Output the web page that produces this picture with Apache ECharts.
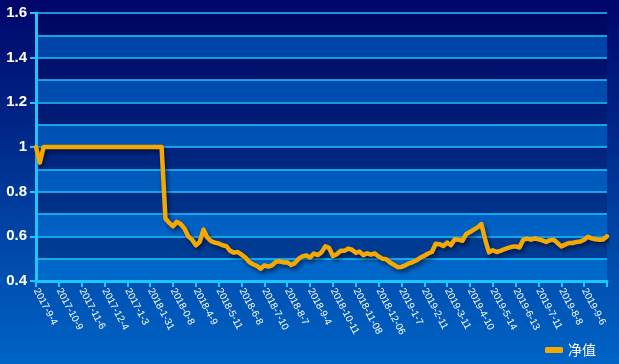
<!DOCTYPE html>
<html>
<head>
<meta charset="utf-8">
<script src="https://cdn.jsdelivr.net/npm/echarts@6/dist/echarts.min.js"></script>
<style>
html,body{margin:0;padding:0;}
#c{width:619px;height:364px;background:linear-gradient(180deg,#00056a 0%,#002688 35%,#0046a6 65%,#0064c6 100%);}
</style>
</head>
<body>
<div id="c"></div>
<script>
// Tick labels on the x axis (one every 6 data points)
const tickLabels = ['2017-9-4','2017-10-9','2017-11-6','2017-12-4','2017-1-3','2018-1-31','2018-0-8','2018-4-9','2018-5-11','2018-6-8','2018-7-10','2018-8-7','2018-9-4','2018-10-11','2018-11-08','2018-12-06','2019-1-7','2019-2-11','2019-3-11','2019-4-10','2019-5-14','2019-6-13','2019-7-11','2019-8-8','2019-9-6'];
const pointsPerTick = 6;
const seriesName = '净值';
const netValue = [
1.0,0.93,1.0,1.0,1.0,1.0,1.0,1.0,1.0,1.0,
1.0,1.0,1.0,1.0,1.0,1.0,1.0,1.0,1.0,1.0,
1.0,1.0,1.0,1.0,1.0,1.0,1.0,1.0,1.0,1.0,
1.0,1.0,1.0,1.0,0.68,0.66,0.645,0.665,0.655,0.635,
0.60,0.585,0.56,0.575,0.63,0.595,0.578,0.572,0.568,0.56,
0.556,0.535,0.527,0.53,0.518,0.505,0.485,0.475,0.468,0.455,
0.47,0.465,0.47,0.486,0.488,0.483,0.484,0.472,0.48,0.50,
0.51,0.515,0.505,0.523,0.516,0.528,0.555,0.548,0.512,0.52,
0.535,0.535,0.545,0.54,0.526,0.532,0.516,0.524,0.518,0.523,
0.51,0.50,0.497,0.483,0.473,0.462,0.463,0.47,0.479,0.485,
0.493,0.505,0.513,0.523,0.53,0.567,0.565,0.557,0.572,0.56,
0.587,0.585,0.58,0.61,0.619,0.63,0.64,0.655,0.585,0.528,
0.538,0.53,0.535,0.542,0.548,0.553,0.555,0.55,0.585,0.59,
0.585,0.59,0.587,0.582,0.575,0.583,0.585,0.57,0.555,0.563,
0.57,0.57,0.575,0.577,0.585,0.598,0.59,0.587,0.585,0.586,
0.60
];
const yMin = 0.4, yMax = 1.6;

const categories = netValue.map((v, i) => {
  const k = Math.floor(i / pointsPerTick), j = i % pointsPerTick;
  if (j === 0) return k < tickLabels.length ? tickLabels[k] : '';
  return tickLabels[k] + '#' + j;
});

const cyan = '#1cc6ff';
const chart = echarts.init(document.getElementById('c'));
chart.setOption({
  animation: false,
  grid: {left: 36, right: 12, top: 13, bottom: 83, containLabel: false},
  legend: {
    right: 18, bottom: 2,
    icon: 'roundRect', itemWidth: 18, itemHeight: 6, itemGap: 8,
    textStyle: {color: '#ffffff', fontSize: 14, fontFamily: 'Noto Sans CJK SC'},
    data: [seriesName]
  },
  xAxis: {
    type: 'category',
    boundaryGap: false,
    data: categories,
    axisLine: {lineStyle: {color: cyan, width: 3}},
    axisTick: {show: true, interval: pointsPerTick - 1, length: 6, lineStyle: {color: cyan, width: 2}},
    axisLabel: {
      interval: pointsPerTick - 1, rotate: -62, color: '#ffffff',
      fontSize: 10, fontFamily: 'Liberation Sans', margin: 8
    },
    splitLine: {show: false}
  },
  yAxis: [{
    type: 'value', min: yMin, max: yMax, interval: 0.1,
    axisLine: {show: true, lineStyle: {color: cyan, width: 3}},
    axisTick: {show: false},
    axisLabel: {show: false},
    splitLine: {show: true, lineStyle: {color: cyan, width: 1.5}},
    splitArea: {show: true, areaStyle: {color: ['rgba(0,140,240,0.42)', 'rgba(0,0,50,0.18)']}}
  }, {
    type: 'value', min: yMin, max: yMax, interval: 0.2, position: 'left',
    axisLine: {show: false},
    axisTick: {show: true, length: 6, lineStyle: {color: cyan, width: 2}},
    axisLabel: {
      color: '#ffffff', fontSize: 15, fontWeight: 'bold', fontFamily: 'Liberation Sans', margin: 9,
      formatter: v => String(Math.round(v * 10) / 10)
    },
    splitLine: {show: false}
  }],
  series: [{
    name: seriesName,
    type: 'line',
    yAxisIndex: 0,
    data: netValue,
    showSymbol: false,
    symbol: 'none',
    itemStyle: {color: '#f5a900'},
    lineStyle: {color: '#f5a900', width: 4.5, join: 'round', cap: 'round', shadowColor: 'rgba(0,0,30,0.6)', shadowBlur: 4, shadowOffsetX: 2, shadowOffsetY: 3}
  }]
});
</script>
</body>
</html>
